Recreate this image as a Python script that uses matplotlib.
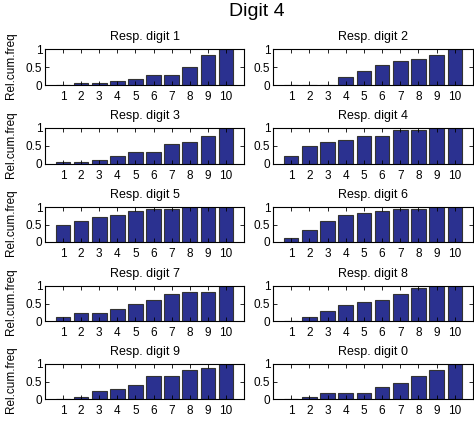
import matplotlib
matplotlib.use("Agg")
import matplotlib.pyplot as plt
import numpy as np

plt.rcParams['font.family'] = ['Liberation Sans', 'DejaVu Sans']

categories = [1, 2, 3, 4, 5, 6, 7, 8, 9, 10]
titles = ["Resp. digit 1", "Resp. digit 2", "Resp. digit 3", "Resp. digit 4",
          "Resp. digit 5", "Resp. digit 6", "Resp. digit 7", "Resp. digit 8",
          "Resp. digit 9", "Resp. digit 0"]

digit1 = [0.0, 0.056, 0.056, 0.111, 0.167, 0.278, 0.278, 0.5, 0.833, 1.0]
digit2 = [0.0, 0.0, 0.0, 0.222, 0.389, 0.556, 0.667, 0.722, 0.833, 1.0]
digit3 = [0.056, 0.056, 0.111, 0.222, 0.333, 0.333, 0.556, 0.611, 0.778, 1.0]
digit4 = [0.222, 0.5, 0.611, 0.667, 0.778, 0.778, 0.944, 0.944, 1.0, 1.0]
digit5 = [0.5, 0.611, 0.722, 0.778, 0.889, 0.944, 0.944, 1.0, 1.0, 1.0]
digit6 = [0.111, 0.333, 0.611, 0.778, 0.833, 0.889, 0.944, 0.944, 1.0, 1.0]
digit7 = [0.111, 0.222, 0.222, 0.333, 0.5, 0.611, 0.778, 0.833, 0.833, 1.0]
digit8 = [0.0, 0.111, 0.278, 0.444, 0.556, 0.611, 0.778, 0.944, 1.0, 1.0]
digit9 = [0.0, 0.056, 0.222, 0.278, 0.389, 0.667, 0.667, 0.833, 0.889, 1.0]
digit0 = [0.0, 0.056, 0.167, 0.167, 0.167, 0.333, 0.444, 0.667, 0.833, 1.0]
series = [digit1, digit2, digit3, digit4, digit5, digit6, digit7, digit8, digit9, digit0]

W, H = 474, 426
fig = plt.figure(figsize=(W / 100, H / 100), dpi=100)

col_x = [(45, 244), (273, 473)]
row_y = [(49, 85), (128, 164), (207, 242), (286, 321), (364, 399)]

bar_color = '#2b3190'

for i, (vals, title) in enumerate(zip(series, titles)):
    r, c = divmod(i, 2)
    x0, x1 = col_x[c]
    y0, y1 = row_y[r]
    ax = fig.add_axes([x0 / W, 1 - y1 / H, (x1 - x0) / W, (y1 - y0) / H])
    ax.bar(categories, vals, width=0.8, color=bar_color, edgecolor='#333333', linewidth=0.8)
    ax.set_xlim(0, 11)
    ax.set_ylim(0, 1)
    ax.set_xticks(categories)
    ax.set_yticks([0, 0.5, 1])
    ax.set_yticklabels(['0', '0.5', '1'])
    ax.tick_params(direction='in', top=True, right=True, length=3, width=0.6,
                   labelsize=8.5, pad=2)
    ax.tick_params(axis='x', pad=4)
    for s in ax.spines.values():
        s.set_linewidth(0.8)
    ax.set_title(title, fontsize=9, pad=6.5)
    if c == 0:
        ax.set_ylabel('Rel.cum.freq', fontsize=8.5)
        ax.yaxis.set_label_coords(-(x0 - 17) / (x1 - x0), 0.55)

fig.text(257 / W, 1 - 12 / H, 'Digit 4', ha='center', va='center', fontsize=14)

fig.savefig('out.png', dpi=100)
